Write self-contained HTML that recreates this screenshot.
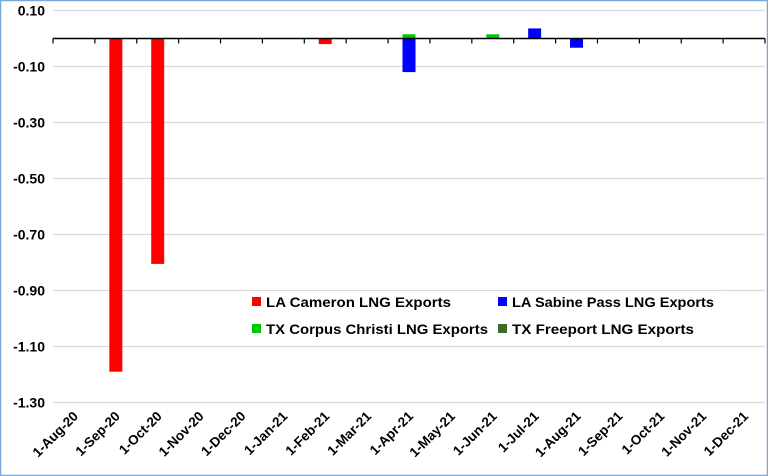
<!DOCTYPE html>
<html><head><meta charset="utf-8"><style>
html,body{margin:0;padding:0;background:#fff;}
svg{display:block;font-family:"Liberation Sans",sans-serif;}
</style></head><body>
<svg id="chart" width="768" height="476" viewBox="0 0 768 476">
<rect x="0.5" y="0.5" width="767" height="475" fill="#fff" stroke="#7aa7d8" stroke-width="1.5"/>
<g id="grid"></g>
<g id="bars"></g>
<g id="axis"></g>
<g id="ylabels"></g>
<g id="xlabels"></g>
<g id="legend"></g>
</svg>
<script>
const categories = ["1-Aug-20","1-Sep-20","1-Oct-20","1-Nov-20","1-Dec-20","1-Jan-21","1-Feb-21","1-Mar-21","1-Apr-21","1-May-21","1-Jun-21","1-Jul-21","1-Aug-21","1-Sep-21","1-Oct-21","1-Nov-21","1-Dec-21"];
const cameron = [0,-1.19,-0.805,0,0,0,-0.02,0,0,0,0,0,0,0,0,0,0];
const sabine = [0,0,0,0,0,0,0,0,-0.12,0,0,0.036,-0.033,0,0,0,0];
const corpus = [0,0,0,0,0,0,0,0,0.015,0,0.015,0,0,0,0,0,0];
const freeport = [0,0,0,0,0,0,0,0,0,0,0,0,0,0,0,0,0];
const yTicks = [0.10,-0.10,-0.30,-0.50,-0.70,-0.90,-1.10,-1.30];
const seriesNames = ["LA Cameron LNG Exports","LA Sabine Pass LNG Exports","TX Corpus Christi LNG Exports","TX Freeport LNG Exports"];
const seriesColors = ["#ff0000","#0000ff","#00c800","#3d6b2a"];

const NS="http://www.w3.org/2000/svg";
const X0=53, X1=765, Y0=38.5, PX=280;
const bw=(X1-X0)/categories.length;
const yS=v=>Y0-v*PX;
const xC=i=>X0+bw*(i+0.5);
function mk(t,a,p){const e=document.createElementNS(NS,t);for(const k in a)e.setAttribute(k,a[k]);p.appendChild(e);return e;}
const grid=document.getElementById('grid'), ylab=document.getElementById('ylabels');
yTicks.forEach(v=>{
  const l=mk('line',{x1:X0,x2:X1,y1:yS(v),y2:yS(v),stroke:'#d9d9d9','stroke-width':1.3},grid);
  
  
  const t=mk('text',{x:45,y:yS(v)+5,'text-anchor':'end','font-size':14,'font-weight':'bold',fill:'#000'},ylab);
  t.textContent=v.toFixed(2);
  
  
});
const bars=document.getElementById('bars');
const all=[cameron,sabine,corpus,freeport];
categories.forEach((c,i)=>{
  let pos=0,neg=0;
  all.forEach((s,k)=>{
    const v=s[i]; if(!v) return;
    let top,bot;
    if(v>0){bot=pos;pos+=v;top=pos;}else{top=neg;neg+=v;bot=neg;}
    const r=mk('rect',{x:xC(i)-6.5,width:13,y:yS(top),height:Math.max(yS(bot)-yS(top),1),fill:seriesColors[k]},bars);
    
    
  });
});
const ax=document.getElementById('axis');
mk('line',{x1:X0,x2:X1,y1:Y0,y2:Y0,stroke:'#000','stroke-width':1.5},ax);
for(let i=0;i<=categories.length;i++){mk('line',{x1:X0+bw*i,x2:X0+bw*i,y1:Y0,y2:Y0+5,stroke:'#000','stroke-width':1.2},ax);}
const xl=document.getElementById('xlabels');
categories.forEach((c,i)=>{
  const x=xC(i)+5, y=417;
  const t=mk('text',{x:x,y:y,'text-anchor':'end','font-size':13.5,'font-weight':'bold',fill:'#000',transform:`rotate(-45 ${x} ${y})`},xl);
  t.textContent=c;
  
  
});
const lg=document.getElementById('legend');
mk('rect',{x:246,y:291,width:480,height:50,fill:'#fff'},lg);
const pos=[[252,302],[498,302],[252,329],[498,329]];
const lens=[185,202,222,182];
seriesNames.forEach((n,k)=>{
  const g=mk('g',{},lg);
  
  
  mk('rect',{x:pos[k][0],y:pos[k][1]-5,width:9,height:9,fill:seriesColors[k]},g);
  const t=mk('text',{x:pos[k][0]+14,y:pos[k][1]+5,'font-size':14,'font-weight':'bold',fill:'#000',textLength:lens[k],lengthAdjust:'spacingAndGlyphs'},g);
  t.textContent=n;
});
</script>
</body></html>
